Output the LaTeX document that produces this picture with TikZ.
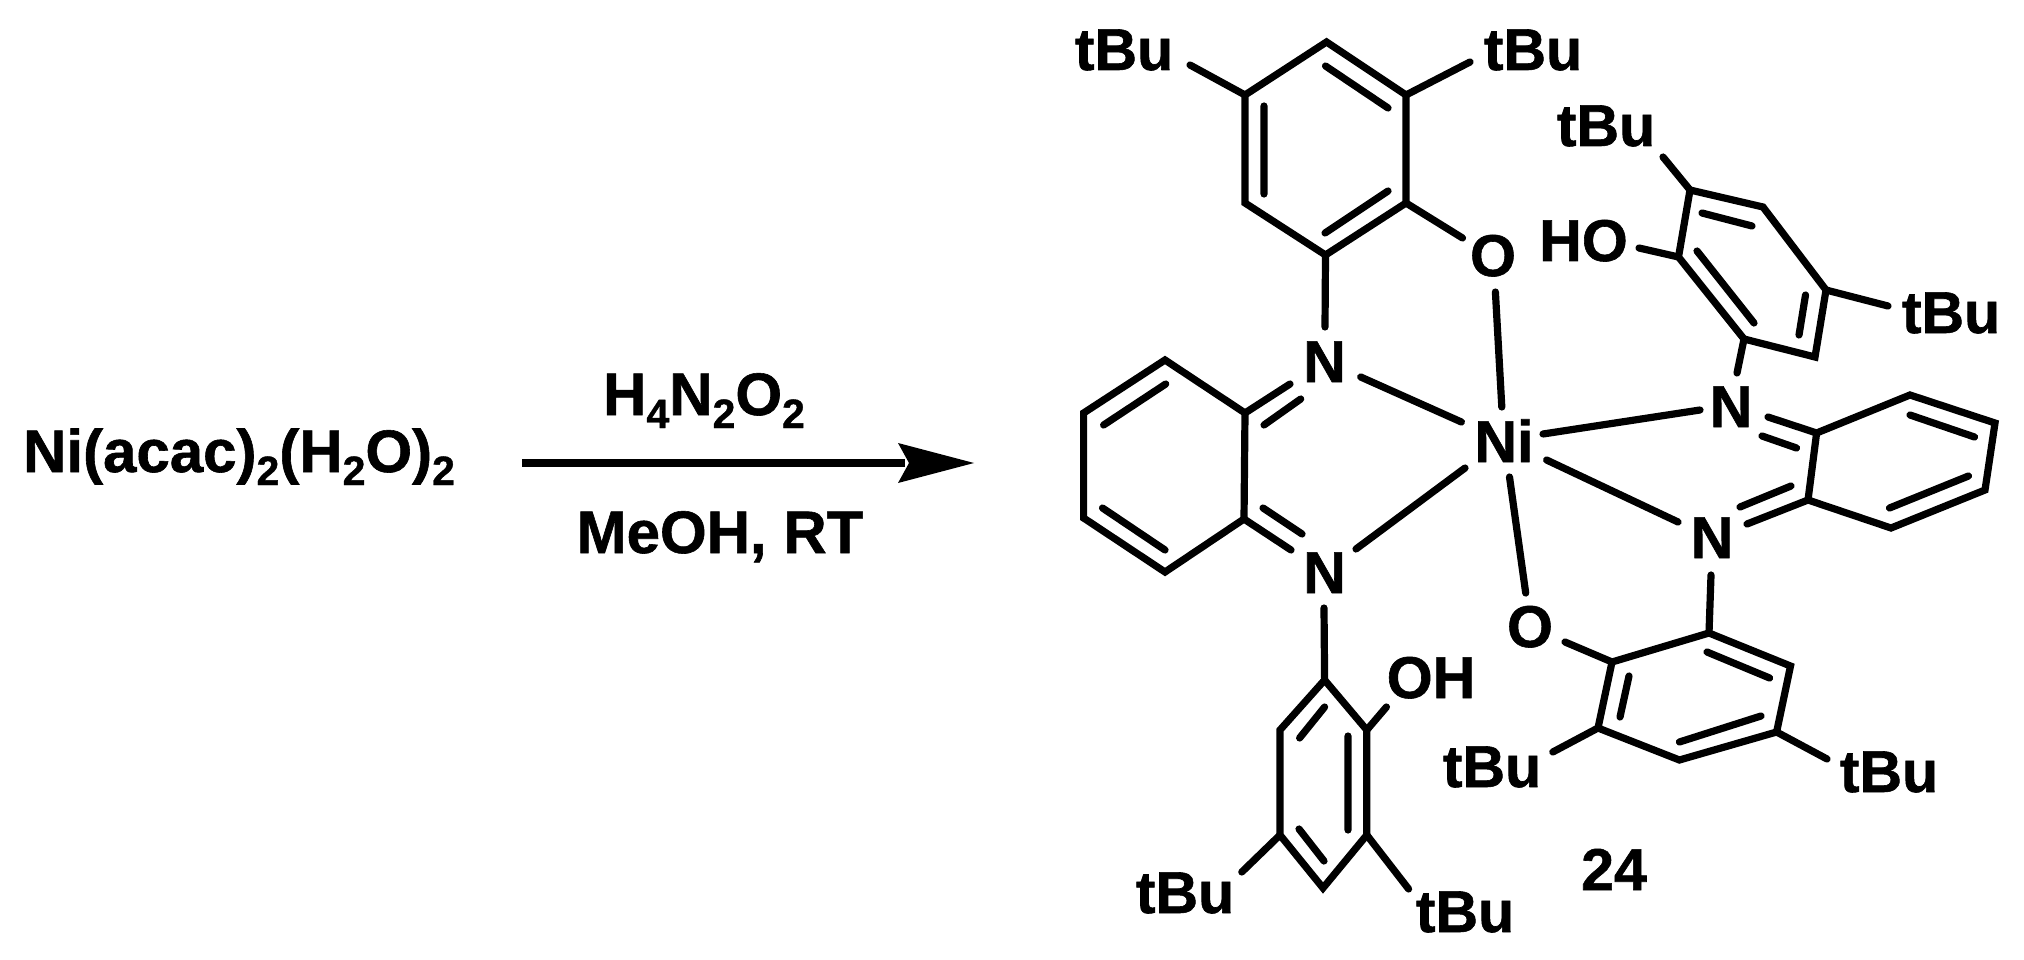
\documentclass[tikz,border=0pt]{standalone}
\usepackage{fontspec}
\setmainfont{Liberation Sans}[BoldFont={Liberation Sans Bold},BoldFeatures={FakeBold=1}]
\newcommand{\sbs}[1]{\raisebox{-13pt}{\fontsize{41}{41}\selectfont #1}}
\tikzset{
  bond/.style={line width=7.2pt,line cap=round,line join=miter,miter limit=10,black},
  atomlbl/.style={anchor=base,inner sep=0pt,outer sep=0pt,font=\fontsize{59}{70}\selectfont\bfseries,text=black},
  rxn/.style={anchor=base,inner sep=0pt,outer sep=0pt,font=\fontsize{60}{70}\selectfont\bfseries,text=black},
}
\begin{document}
\begin{tikzpicture}[x=1pt,y=-1pt]
\useasboundingbox (0,0) rectangle (2024,960);
% --- atoms / bond ends
\foreach \n/\x/\y in {
 a1/1326.5/42,a2/1406/95,a3/1406/203,a4/1325.5/255,a5/1245/203,a6/1245/95,
 a7/1325.5/66,a8/1388/108,a9/1388/191,a10/1325/233,a11/1264/106,a12/1264/194,
 a13/1190/65,a14/1470/62,a15/1462.5/238,a16/1325/327,
 o1a/1495.4/292,o1b/1501.8/407,n1a/1360.7/377,n1b/1461.4/422,
 c1/1165/360,c2/1245/413,c3/1244/519,c4/1165/572,c5/1083.6/518,c6/1083.6/413,
 c7/1165.7/384,c8/1103.6/425,c9/1102.5/508,c10/1165/550,
 c11/1290/384,c12/1264/425,c13/1300.7/399,c14/1291/550,c15/1263/508,c16/1302/534,
 n2a/1356/549,n2b/1465/468,o2a/1509.5/477,o2b/1525.7/593,
 d0/1324/608,d1/1324.6/680,d2/1366.8/730,d3/1366.8/835,d4/1323/888,d5/1280/835,d6/1280/730,
 d7/1324.6/707,d8/1299.6/738,d9/1348/736,d10/1348/830,d11/1299/829,d12/1324/861,
 d13/1386.4/707,d14/1241.8/872,d15/1408.6/889,
 e1/1612/662,e2/1709/633,e3/1790.5/666,e4/1776.6/732,e5/1679.4/760,e6/1598/728,
 e7/1707/652,e8/1769.6/678,e9/1761/716,e10/1679.4/742,e11/1629/676,e12/1620/717,
 e13/1565/642,e14/1711/575,e15/1552.8/752,e16/1827/759,
 f1/1816.6/433,f2/1910/395,f3/1995/423,f4/1985/490,f5/1891/528,f6/1808/500,
 f7/1910/415,f8/1974.5/437,f9/1968.5/476,f10/1889.5/508,
 f11/1768/417,f12/1796.5/448,f13/1762/436,f14/1747/524,f15/1791/486,f16/1740/507,
 n3a/1543/434,n3b/1700/410,n4a/1546.6/460,n4b/1678/522,
 g1/1690/190,g2/1763/207,g3/1826/290,g4/1815/357,g5/1744/339,g6/1678.5/257,
 g7/1702/213,g8/1752/226,g9/1697/251,g10/1754/323,g11/1805.5/295,g12/1799/335,
 g13/1663/157,g14/1639/248,g15/1888/306,g16/1737/373,
 arrS/522/463,arrE/905/463}
  \coordinate (\n) at (\x,\y);
% --- labels
\node[atomlbl] (tb1) at (1124,70) {tBu};
\node[atomlbl] (tb2) at (1533,70) {tBu};
\node[atomlbl] (tb3) at (1606,146) {tBu};
\node[atomlbl] (tb4) at (1951,333) {tBu};
\node[atomlbl] (tb5) at (1492,787) {tBu};
\node[atomlbl] (tb6) at (1889,792) {tBu};
\node[atomlbl] (tb7) at (1185,913) {tBu};
\node[atomlbl] (tb8) at (1465,932) {tBu};
\node[atomlbl] (O1) at (1493,276) {O};
\node[atomlbl] (O2) at (1530,647) {O};
\node[atomlbl] (OH) at (1431,698) {OH};
\node[atomlbl] (HO) at (1583.5,261) {HO};
\node[atomlbl] (N1) at (1324.6,382) {N};
\node[atomlbl] (N2) at (1324.6,593) {N};
\node[atomlbl] (N3) at (1731,427) {N};
\node[atomlbl] (N4) at (1712,558) {N};
\node[atomlbl] (Ni) at (1504,462) {Ni};
\node[atomlbl] (cmp) at (1614,890) {24};
\node[rxn] (reac) at (239,472) {Ni(acac)\sbs{2}(H\sbs{2}O)\sbs{2}};
\node[rxn] (top) at (704,415) {H\sbs{4}N\sbs{2}O\sbs{2}};
\node[rxn] (bot) at (720,553) {MeOH, RT};
% --- ring A
\draw[bond] (a1)--(a2)--(a3)--(a4)--(a5)--(a6)--cycle;
\draw[bond] (a7)--(a8) (a9)--(a10) (a11)--(a12);
\draw[bond] (a6)--(a13) (a2)--(a14) (a3)--(a15) (a4)--(a16);
% --- metal bonds
\draw[bond] (o1a)--(o1b) (n1a)--(n1b) (n2a)--(n2b) (o2a)--(o2b) (n3a)--(n3b) (n4a)--(n4b);
% --- ring C
\draw[bond] (c1)--(c2)--(c3)--(c4)--(c5)--(c6)--cycle;
\draw[bond] (c7)--(c8) (c9)--(c10);
\draw[bond] (c2)--(c11) (c12)--(c13) (c3)--(c14) (c15)--(c16);
% --- ring D
\draw[bond] (d0)--(d1);
\draw[bond] (d1)--(d2)--(d3)--(d4)--(d5)--(d6)--cycle;
\draw[bond] (d7)--(d8) (d9)--(d10) (d11)--(d12);
\draw[bond] (d2)--(d13) (d5)--(d14) (d3)--(d15);
% --- ring E
\draw[bond] (e1)--(e2)--(e3)--(e4)--(e5)--(e6)--cycle;
\draw[bond] (e7)--(e8) (e9)--(e10) (e11)--(e12);
\draw[bond] (e1)--(e13) (e2)--(e14) (e6)--(e15) (e4)--(e16);
% --- ring F
\draw[bond] (f1)--(f2)--(f3)--(f4)--(f5)--(f6)--cycle;
\draw[bond] (f7)--(f8) (f9)--(f10);
\draw[bond] (f1)--(f11) (f12)--(f13) (f6)--(f14) (f15)--(f16);
% --- ring G
\draw[bond] (g1)--(g2)--(g3)--(g4)--(g5)--(g6)--cycle;
\draw[bond] (g7)--(g8) (g9)--(g10) (g11)--(g12);
\draw[bond] (g1)--(g13) (g6)--(g14) (g3)--(g15) (g5)--(g16);
% --- arrow
\draw[line width=7.6pt,black] (arrS)--(arrE);
\fill[black] (974,463)--(898,443)--(909,463)--(898,483)--cycle;
\end{tikzpicture}
\end{document}
